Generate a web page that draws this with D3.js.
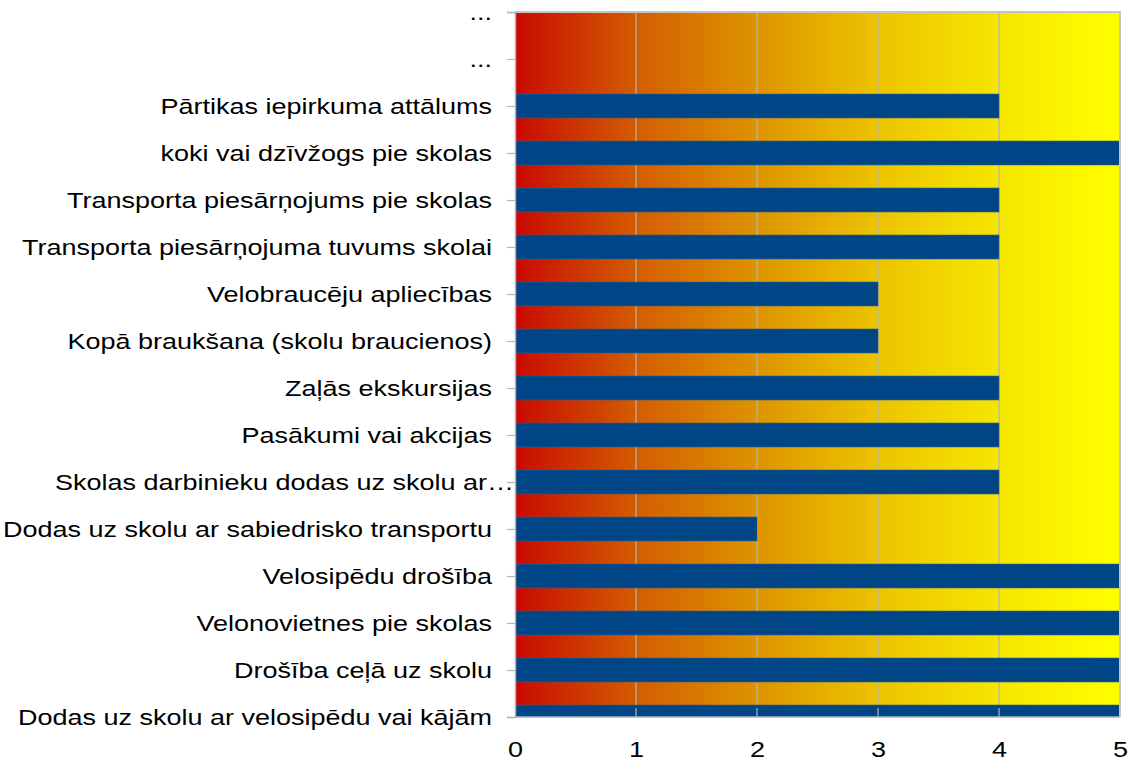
<!DOCTYPE html>
<html>
<head>
<meta charset="utf-8">
<script src="https://cdn.jsdelivr.net/npm/d3@7"></script>
<style>
  body { margin: 0; background: #fff; }
  text { font-family: "Liberation Sans", Arial, sans-serif; fill: #000; }
</style>
</head>
<body>
<div id="chart"></div>
<script>
// categories from top to bottom
const categories = [
  "...",
  "... ",
  "Pārtikas iepirkuma attālums",
  "koki vai dzīvžogs pie skolas",
  "Transporta piesārņojums pie skolas",
  "Transporta piesārņojuma tuvums skolai",
  "Velobraucēju apliecības",
  "Kopā braukšana (skolu braucienos)",
  "Zaļās ekskursijas",
  "Pasākumi vai akcijas",
  "Skolas darbinieku dodas uz skolu ar…",
  "Dodas uz skolu ar sabiedrisko transportu",
  "Velosipēdu drošība",
  "Velonovietnes pie skolas",
  "Drošība ceļā uz skolu",
  "Dodas uz skolu ar velosipēdu vai kājām"
]
const values = [0, 0, 4, 5, 4, 4, 3, 3, 4, 4, 4, 2, 5, 5, 5, 5]
const xTicks = [0, 1, 2, 3, 4, 5]

const width = 1134
const height = 764
const padding = { top: 12, bottom: 47, left: 515, right: 14 }
const innerWidth = width - padding.left - padding.right
const innerHeight = height - padding.top - padding.bottom
const stretch = 1.2   // text in the original is a bit wider than tall

const svg = d3.select("#chart").append("svg")
  .attr("width", width)
  .attr("height", height)

const xScale = d3.scaleLinear().domain([0, 5]).range([padding.left, padding.left + innerWidth])
const yScale = d3.scalePoint().domain(categories).range([padding.top, padding.top + innerHeight]).padding(0)
const barHeight = yScale.step() * 0.51

const defs = svg.append("defs")
const grad = defs.append("linearGradient").attr("id", "bgGrad")
  .attr("x1", "0%").attr("x2", "100%").attr("y1", "0%").attr("y2", "0%")
const stops = [
  [0, "#d40000"], [0.012, "#c90f00"], [0.14, "#cf4400"], [0.2, "#d45c00"],
  [0.4, "#de9400"], [0.6, "#ecc400"], [0.8, "#f6e600"], [1, "#ffff00"]
]
stops.forEach(s => grad.append("stop").attr("offset", s[0]).attr("stop-color", s[1]))

defs.append("clipPath").attr("id", "plotClip")
  .append("rect")
  .attr("x", padding.left).attr("y", padding.top)
  .attr("width", innerWidth).attr("height", innerHeight)

// background
svg.append("rect")
  .attr("x", padding.left).attr("y", padding.top)
  .attr("width", innerWidth).attr("height", innerHeight)
  .attr("fill", "url(#bgGrad)")

// gridlines
svg.append("g").selectAll("line")
  .data(xTicks.slice(1, -1))
  .enter().append("line")
  .attr("x1", d => xScale(d)).attr("x2", d => xScale(d))
  .attr("y1", padding.top).attr("y2", padding.top + innerHeight)
  .attr("stroke", "#b4b4b4").attr("stroke-width", 1.2)

// bars
svg.append("g").attr("clip-path", "url(#plotClip)")
  .selectAll("rect")
  .data(categories.map((c, i) => ({ c, v: values[i] })))
  .enter().append("rect")
  .attr("x", xScale(0))
  .attr("y", d => yScale(d.c) - barHeight / 2)
  .attr("width", d => xScale(d.v) - xScale(0))
  .attr("height", barHeight)
  .attr("fill", "#004586")
  .attr("stroke", "#2d5f8f")
  .attr("stroke-width", 0.6)

// small inner ticks at bottom
svg.append("g").selectAll("line")
  .data(xTicks.slice(1, -1))
  .enter().append("line")
  .attr("x1", d => xScale(d)).attr("x2", d => xScale(d))
  .attr("y1", padding.top + innerHeight - 9).attr("y2", padding.top + innerHeight)
  .attr("stroke", "#b4b4b4").attr("stroke-width", 1.2)

// frame: top and right grey
svg.append("path")
  .attr("d", `M${padding.left},${padding.top}H${padding.left + innerWidth}V${padding.top + innerHeight}`)
  .attr("fill", "none").attr("stroke", "#c4c4c4").attr("stroke-width", 2)
svg.append("line")
  .attr("x1", padding.left).attr("x2", padding.left + innerWidth)
  .attr("y1", padding.top + innerHeight).attr("y2", padding.top + innerHeight)
  .attr("stroke", "#aab4c0").attr("stroke-width", 1.5)

// y axis
const yAxis = svg.append("g")
  .attr("transform", `translate(${padding.left},0)`)
  .call(d3.axisLeft(yScale).tickSize(8))
yAxis.select(".domain").attr("stroke", "#b4b4b4").attr("stroke-width", 1.5)
yAxis.selectAll(".tick line").attr("stroke", "#b4b4b4").attr("stroke-width", 1.2)
yAxis.selectAll(".tick text")
  .attr("font-size", 22.5)
  .attr("font-family", "Liberation Sans, Arial, sans-serif")
  .attr("x", 0)
  .attr("transform", d => `translate(${d.startsWith("Skolas") ? -1 : -23},0) scale(${stretch},1)`)
  .text(d => d.trim())

// x axis labels
const xAxis = svg.append("g")
  .attr("transform", `translate(0,${padding.top + innerHeight})`)
  .call(d3.axisBottom(xScale).tickValues(xTicks).tickFormat(d3.format("d")).tickSize(0).tickPadding(24))
xAxis.select(".domain").remove()
xAxis.selectAll(".tick text")
  .attr("font-size", 22.5)
  .attr("font-family", "Liberation Sans, Arial, sans-serif")
  .attr("transform", `scale(${stretch},1)`)
</script>
</body>
</html>
